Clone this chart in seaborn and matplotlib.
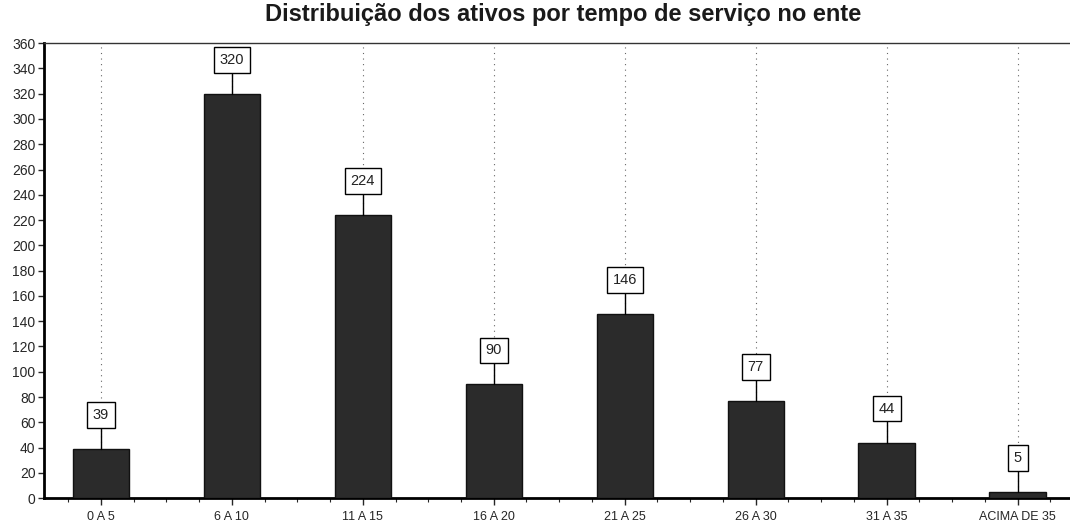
import numpy as np
import matplotlib
matplotlib.use("Agg")
import matplotlib.pyplot as plt
import seaborn as sns
from matplotlib.ticker import MultipleLocator

# Data
categories = ['0 A 5', '6 A 10', '11 A 15', '16 A 20', '21 A 25', '26 A 30', '31 A 35', 'ACIMA DE 35']
values = [39, 320, 224, 90, 146, 77, 44, 5]
title = 'Distribuição dos ativos por tempo de serviço no ente'

sns.set_style('white')
plt.rcParams['font.family'] = ['Liberation Sans', 'DejaVu Sans']

fig = plt.figure(figsize=(10.7, 5.26), dpi=100)
ax = fig.add_axes([0.041, 0.053, 0.959, 0.865])

sns.barplot(x=categories, y=values, color='#2b2b2b', width=0.43,
            edgecolor='#111111', linewidth=1, saturation=1, ax=ax, zorder=3)

# dotted vertical guides at each category
ax.grid(False)
for i in range(len(categories)):
    ax.axvline(i, color='#666666', linestyle=(0, (1, 4)), linewidth=0.8, zorder=1)

# value labels in boxes with connector lines
offset = 28
for i, v in enumerate(values):
    ax.plot([i, i], [v, v + offset], color='black', linewidth=1, zorder=4)
    ax.text(i, v + offset, str(v), ha='center', va='center_baseline', fontsize=10.5, zorder=5,
            color='#222222',
            bbox=dict(boxstyle='square,pad=0.4', facecolor='white', edgecolor='black', linewidth=1))

ax.set_ylim(0, 360)
ax.set_xlim(-0.435, 7.4)
ax.yaxis.set_major_locator(MultipleLocator(20))
ax.xaxis.set_minor_locator(MultipleLocator(0.25))
ax.tick_params(axis='y', which='major', length=4, width=1, direction='out', labelsize=10, pad=2, left=True)
ax.tick_params(axis='x', which='major', length=5, width=1, direction='out', labelsize=9, pad=4, bottom=True)
ax.tick_params(axis='x', which='minor', length=3, width=0.8, direction='out', bottom=True)

for side in ['left', 'bottom']:
    ax.spines[side].set_linewidth(2)
    ax.spines[side].set_color('black')
ax.spines['top'].set_linewidth(1)
ax.spines['top'].set_color('#333333')
ax.spines['right'].set_visible(False)

ax.set_xlabel('')
ax.set_ylabel('')
fig.suptitle(title, fontsize=17, fontweight='bold', x=0.526, y=0.995, color='#1a1a1a')

fig.savefig('out.png', dpi=100)
